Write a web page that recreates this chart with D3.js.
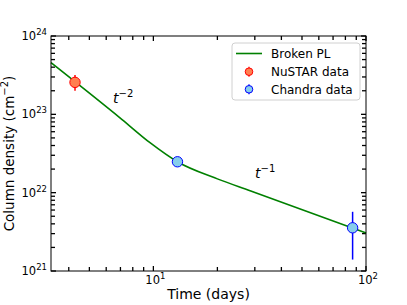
<!DOCTYPE html>
<meta charset="utf-8">
<style>
body { margin: 0; background: #fff; }
text { font-family: "DejaVu Sans", sans-serif; fill: #000; }
</style>
<body>
<script src="https://cdn.jsdelivr.net/npm/d3@7"></script>
<script>

// broken power-law curve
var modelT = [3.3, 7.10, 9.64, 13.03, 20.0, 28.5, 100];
var modelN = [4.56e23, 8.63e22, 4.34e22, 2.46e22, 1.5e22, 1.06e22, 3.05e21];

var nustarT = [4.28];
var nustarN = [2.56e23];
var nustarLo = [2.0e23];
var nustarHi = [3.18e23];

var chandraT = [12.98, 86.5];
var chandraN = [2.48e22, 3.56e21];
var chandraLo = [2.40e22, 1.4e21];
var chandraHi = [2.56e22, 5.7e21];

var xTicks = [10, 100];
var yTicks = [1e21, 1e22, 1e23, 1e24];

var margin = {top: 36, right: 41, bottom: 34, left: 51},
    width = 407 - margin.left - margin.right,
    height = 305 - margin.top - margin.bottom;

var svg = d3.select("body").append("svg")
    .attr("width", 407)
    .attr("height", 305);

var g = svg.append("g")
    .attr("transform", "translate(" + margin.left + "," + margin.top + ")");

var x = d3.scaleLog().domain([3.3, 100]).range([0, width]);
var y = d3.scaleLog().domain([1e21, 1e24]).range([height, 0]);

// minor ticks
var xMinor = [];
[1, 10].forEach(function(d) {
  for (var k = 2; k <= 9; k++) {
    var v = d * k;
    if (v >= 3.3 && v <= 100) xMinor.push(v);
  }
});
var yMinor = [];
[1e21, 1e22, 1e23].forEach(function(d) {
  for (var k = 2; k <= 9; k++) yMinor.push(d * k);
});

var tickG = g.append("g").attr("stroke", "#000").attr("stroke-width", 1.3);
function xt(vals, len) {
  vals.forEach(function(v) {
    var px = x(v);
    tickG.append("line").attr("x1", px).attr("x2", px).attr("y1", height).attr("y2", height - len);
    tickG.append("line").attr("x1", px).attr("x2", px).attr("y1", 0).attr("y2", len);
  });
}
function yt(vals, len) {
  vals.forEach(function(v) {
    var py = y(v);
    tickG.append("line").attr("y1", py).attr("y2", py).attr("x1", 0).attr("x2", len);
    tickG.append("line").attr("y1", py).attr("y2", py).attr("x1", width).attr("x2", width - len);
  });
}
xt(xMinor, 4);
xt(xTicks, 5);
yt(yMinor, 4);
yt(yTicks, 5);

// tick labels
function powLabel(sel, exp) {
  sel.append("tspan").text("10");
  sel.append("tspan").attr("dy", -5).attr("font-size", 8.5).text(exp);
}
xTicks.forEach(function(v) {
  var t = g.append("text")
    .attr("x", x(v) + 2)
    .attr("y", height + 13)
    .attr("text-anchor", "middle")
    .attr("font-size", 11.5);
  powLabel(t, Math.round(Math.log10(v)));
});
yTicks.forEach(function(v) {
  var t = g.append("text")
    .attr("x", -4)
    .attr("y", y(v) + 4)
    .attr("text-anchor", "end")
    .attr("font-size", 11.5);
  powLabel(t, Math.round(Math.log10(v)));
});

// model line
var line = d3.line()
  .x(function(d, i) { return x(modelT[i]); })
  .y(function(d, i) { return y(modelN[i]); })
  .curve(d3.curveMonotoneX);

g.append("path")
  .attr("d", line(modelT))
  .attr("fill", "none")
  .attr("stroke", "green")
  .attr("stroke-width", 1.6);

// data points
function points(T, N, lo, hi, fill, edge) {
  T.forEach(function(t, i) {
    g.append("line")
      .attr("x1", x(t)).attr("x2", x(t))
      .attr("y1", y(lo[i])).attr("y2", y(hi[i]))
      .attr("stroke", edge).attr("stroke-width", 1.5);
    g.append("circle")
      .attr("cx", x(t)).attr("cy", y(N[i]))
      .attr("r", 5.2)
      .attr("fill", fill)
      .attr("stroke", edge)
      .attr("stroke-width", 1);
  });
}
points(nustarT, nustarN, nustarLo, nustarHi, "#ff7f50", "red");
points(chandraT, chandraN, chandraLo, chandraHi, "skyblue", "blue");

// slope annotations
function slopeLabel(px, py, exp) {
  var t = g.append("text").attr("x", px).attr("y", py).attr("font-size", 14);
  t.append("tspan").attr("font-style", "italic").text("t");
  t.append("tspan").attr("dy", -6).attr("font-size", 10).text("\u2212" + exp);
}
slopeLabel(113 - margin.left, 103 - margin.top, 2);
slopeLabel(255 - margin.left, 178 - margin.top, 1);

// frame
g.append("rect")
  .attr("width", width).attr("height", height)
  .attr("fill", "none").attr("stroke", "#000").attr("stroke-width", 1);

// legend
var leg = svg.append("g").attr("transform", "translate(232,43)");
leg.append("rect")
  .attr("width", 128).attr("height", 57)
  .attr("rx", 3)
  .attr("fill", "#fff").attr("fill-opacity", 0.8)
  .attr("stroke", "#d0d0d0");
leg.append("line")
  .attr("x1", 4).attr("x2", 30).attr("y1", 10.5).attr("y2", 10.5)
  .attr("stroke", "green").attr("stroke-width", 1.6);
var entries = [
  {label: "Broken PL", y: 10.5},
  {label: "NuSTAR data", y: 28.7, fill: "#ff7f50", edge: "red"},
  {label: "Chandra data", y: 46.3, fill: "skyblue", edge: "blue"}
];
entries.forEach(function(e) {
  if (e.fill) {
    leg.append("line")
      .attr("x1", 17).attr("x2", 17).attr("y1", e.y - 5).attr("y2", e.y + 5)
      .attr("stroke", e.edge).attr("stroke-width", 1.2);
    leg.append("circle")
      .attr("cx", 17).attr("cy", e.y).attr("r", 3.8)
      .attr("fill", e.fill).attr("stroke", e.edge).attr("stroke-width", 1);
  }
  leg.append("text")
    .attr("x", 39).attr("y", e.y + 4.3)
    .attr("font-size", 12)
    .text(e.label);
});

// axis labels
svg.append("text")
  .attr("x", margin.left + width / 2)
  .attr("y", 299)
  .attr("text-anchor", "middle")
  .attr("font-size", 14)
  .text("Time (days)");

var yl = svg.append("text")
  .attr("transform", "translate(14," + (margin.top + height / 2) + ") rotate(-90)")
  .attr("text-anchor", "middle")
  .attr("font-size", 13.5);
yl.append("tspan").text("Column density (cm");
yl.append("tspan").attr("dy", -6).attr("font-size", 10).text("\u22122");
yl.append("tspan").attr("dy", 6).text(")");

</script>
</body>
